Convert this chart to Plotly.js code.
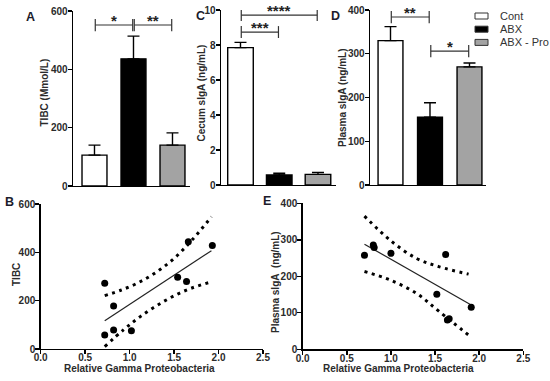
<!DOCTYPE html>
<html>
<head>
<meta charset="utf-8">
<script src="https://cdn.plot.ly/plotly-3.0.1.min.js"></script>
<style>html,body{margin:0;padding:0;background:#fff;}#chart{width:550px;height:381px;}</style>
</head>
<body>
<div id="chart"></div>
<script>
// ---------- data ----------
const groups = ['Cont', 'ABX', 'ABX - Pro'];
const groupColors = ['#ffffff', '#000000', '#a3a3a3'];

const tibcMean = [106, 436, 140];
const tibcErr = [34, 78, 42];

const cecumMean = [7.85, 0.57, 0.61];
const cecumErr = [0.3, 0.1, 0.11];

const plasmaMean = [330, 155, 270];
const plasmaErr = [32, 33, 9];

// significance comparisons [from, to, label]
const sigA = [[0, 1, '*'], [1, 2, '**']];
const sigC = [[0, 2, '****'], [0, 1, '***']];
const sigD = [[0, 1, '**'], [1, 2, '*']];

// panel B: TIBC vs relative gamma proteobacteria
const gammaB = [0.72, 0.82, 0.72, 0.82, 1.02, 1.54, 1.64, 1.66, 1.93];
const tibcB = [272, 178, 58, 79, 76, 297, 279, 444, 428];
const fitBx = [0.72, 1.92];
const fitBy = [117, 407];
const upperBx = [0.72, 0.9, 1.1, 1.3, 1.5, 1.7, 1.92];
const upperBy = [221, 243, 275, 318, 375, 450, 547];
const lowerBx = [0.72, 0.93, 1.12, 1.38, 1.64, 1.92];
const lowerBy = [10, 79, 134, 196, 244, 278];

// panel E: plasma sIgA vs relative gamma proteobacteria
const gammaE = [0.70, 0.80, 0.81, 1.00, 1.62, 1.52, 1.64, 1.66, 1.91];
const plasmaE = [258, 286, 279, 263, 260, 151, 80, 84, 115];
const fitEx = [0.70, 1.90];
const fitEy = [288, 123];
const upperEx = [0.70, 0.99, 1.29, 1.55, 1.88];
const upperEy = [365, 299, 249, 226, 206];
const lowerEx = [0.70, 0.99, 1.29, 1.55, 1.90];
const lowerEy = [213, 190, 153, 103, 35];

// ---------- styling ----------
const W = 550, H = 381;
const FAM = 'Liberation Sans, Arial, sans-serif';
const TXT = '#2b2b2b';
const px = v => v / W;
const py = v => 1 - v / H;
const tickFont = {family: FAM, size: 10, color: TXT, weight: 'bold'};
const titleFont = {family: FAM, size: 10, color: TXT, weight: 'bold'};
const idx = groups.map((_, i) => i);

function barTraces(means, errs, xa, ya, width) {
  return groups.map((g, i) => ({
    type: 'bar', x: [idx[i]], y: [means[i]], name: g, width: width,
    xaxis: xa, yaxis: ya, showlegend: false,
    marker: {color: groupColors[i], line: {color: '#000', width: 1.4}},
    error_y: {type: 'data', symmetric: false, array: [errs[i]], arrayminus: [0],
              color: '#000', thickness: 1.4, width: 6}
  }));
}

function yAx(domain, range, dtick, xanchor) {
  return {domain: domain, range: range, dtick: dtick, anchor: xanchor,
    showline: true, linecolor: '#000', linewidth: 1.4, ticks: 'outside', ticklen: 4,
    tickwidth: 1.4, tickcolor: '#000', showgrid: false, zeroline: false,
    ticklabelstandoff: -2, tickfont: tickFont, fixedrange: true};
}
function xCat(domain, range, yanchor) {
  return {domain: domain, range: range, anchor: yanchor, showline: true,
    linecolor: '#000', linewidth: 1.4, showticklabels: false, ticks: '',
    showgrid: false, zeroline: false, fixedrange: true};
}
function xNum(domain, yanchor) {
  return {domain: domain, range: [0, 2.5], dtick: 0.5, tickformat: '.1f', anchor: yanchor,
    showline: true, linecolor: '#000', linewidth: 1.4, ticks: 'outside', ticklen: 4,
    tickwidth: 1.4, tickcolor: '#000', showgrid: false, zeroline: false,
    ticklabelstandoff: -5, tickfont: tickFont, fixedrange: true};
}

const traces = [];
traces.push(...barTraces(tibcMean, tibcErr, 'x', 'y', 0.64));
traces.push(...barTraces(cecumMean, cecumErr, 'x2', 'y2', 0.66));
traces.push(...barTraces(plasmaMean, plasmaErr, 'x3', 'y3', 0.63));

function scatterSet(xs, ys, fx, fy, ux, uy, lx, ly, xa, ya) {
  const dotted = {color: '#000', width: 3, dash: '3px,4.5px'};
  return [
    {type: 'scatter', mode: 'lines', x: ux, y: uy, xaxis: xa, yaxis: ya, showlegend: false,
     line: Object.assign({shape: 'spline'}, dotted)},
    {type: 'scatter', mode: 'lines', x: lx, y: ly, xaxis: xa, yaxis: ya, showlegend: false,
     line: Object.assign({shape: 'spline'}, dotted)},
    {type: 'scatter', mode: 'lines', x: fx, y: fy, xaxis: xa, yaxis: ya, showlegend: false,
     line: {color: '#222', width: 1.2}},
    {type: 'scatter', mode: 'markers', x: xs, y: ys, xaxis: xa, yaxis: ya, showlegend: false,
     marker: {color: '#000', size: 7}}
  ];
}
traces.push(...scatterSet(gammaB, tibcB, fitBx, fitBy, upperBx, upperBy, lowerBx, lowerBy, 'x4', 'y4'));
traces.push(...scatterSet(gammaE, plasmaE, fitEx, fitEy, upperEx, upperEy, lowerEx, lowerEy, 'x5', 'y5'));

// significance brackets
const shapes = [];
const annotations = [];
function brackets(sig, levels, xr, yr, tickHalf) {
  sig.forEach((s, k) => {
    const x0 = s[0] + 0.02, x1 = s[1] - 0.02, yv = levels[k];
    const ln = {color: '#333', width: 1.2};
    shapes.push({type: 'line', xref: xr, yref: yr, x0: x0, x1: x1, y0: yv, y1: yv, line: ln});
    shapes.push({type: 'line', xref: xr, yref: yr, x0: x0, x1: x0, y0: yv - tickHalf, y1: yv + tickHalf, line: ln});
    shapes.push({type: 'line', xref: xr, yref: yr, x0: x1, x1: x1, y0: yv - tickHalf, y1: yv + tickHalf, line: ln});
    annotations.push({xref: xr, yref: yr, x: (s[0] + s[1]) / 2, y: yv, yanchor: 'bottom', yshift: -6,
      text: s[2], showarrow: false, font: {family: FAM, size: 15, color: '#222', weight: 'bold'}});
  });
}
brackets(sigA, [552, 552], 'x', 'y', 21);
brackets(sigC, [9.71, 8.74], 'x2', 'y2', 0.34);
brackets(sigD, [384, 306], 'x3', 'y3', 14);

// legend (manual, wide boxes as in the reference)
groups.forEach((g, i) => {
  const cy = 16 + i * 13.2;
  shapes.push({type: 'rect', xref: 'paper', yref: 'paper', x0: px(475), x1: px(488),
    y0: py(cy + 3), y1: py(cy - 3), fillcolor: groupColors[i], line: {color: '#333', width: 1}});
  annotations.push({xref: 'paper', yref: 'paper', x: px(498), y: py(cy), xanchor: 'left', yanchor: 'middle',
    text: g, showarrow: false, font: {family: FAM, size: 11, color: '#333'}});
});

// panel letters
[['A', 30, 17], ['C', 200, 16], ['D', 335, 16], ['B', 9, 202], ['E', 267, 201]].forEach(p => {
  annotations.push({xref: 'paper', yref: 'paper', x: px(p[1]), y: py(p[2]), xanchor: 'center', yanchor: 'middle',
    text: p[0], showarrow: false, font: {family: FAM, size: 12.5, color: '#1c1c2c', weight: 'bold'}});
});

// axis titles [text, cx, cy, angle]
[['TIBC (Mmol/L)', 44, 92.5, -90],
 ['Cecum sIgA (ng/mL)', 200.5, 93, -90],
 ['Plasma sIgA (ng/mL)', 342, 98, -90],
 ['TIBC', 16, 275, -90],
 ['Plasma sIgA  (ng/mL)', 275.5, 282.5, -90],
 ['Relative Gamma Proteobacteria', 139.5, 368, 0],
 ['Relative Gamma Proteobacteria', 398.3, 368, 0]].forEach(t => {
  annotations.push({xref: 'paper', yref: 'paper', x: px(t[1]), y: py(t[2]), xanchor: 'center', yanchor: 'middle',
    text: t[0].replace(/  /g, '&nbsp; '), textangle: t[3], showarrow: false, font: titleFont});
});

const layout = {
  width: W, height: H, margin: {l: 0, r: 0, t: 0, b: 0},
  paper_bgcolor: '#fff', plot_bgcolor: 'rgba(0,0,0,0)', showlegend: false, bargap: 0,
  xaxis: xCat([px(73), px(190)], [-0.551, 2.449], 'y'),
  yaxis: yAx([py(186), py(11)], [0, 600], 200, 'x'),
  xaxis2: xCat([px(221), px(336)], [-0.503, 2.465], 'y2'),
  yaxis2: yAx([py(185), py(10)], [0, 10], 2, 'x2'),
  xaxis3: xCat([px(370), px(486)], [-0.519, 2.418], 'y3'),
  yaxis3: yAx([py(185), py(10)], [0, 400], 100, 'x3'),
  xaxis4: xNum([px(40.7), px(263)], 'y4'),
  yaxis4: yAx([py(349), py(204)], [0, 600], 200, 'x4'),
  xaxis5: xNum([px(302.7), px(523.3)], 'y5'),
  yaxis5: yAx([py(349.3), py(203.3)], [0, 400], 100, 'x5'),
  shapes: shapes, annotations: annotations
};

Plotly.newPlot('chart', traces, layout, {staticPlot: true, displayModeBar: false});
</script>
</body>
</html>
